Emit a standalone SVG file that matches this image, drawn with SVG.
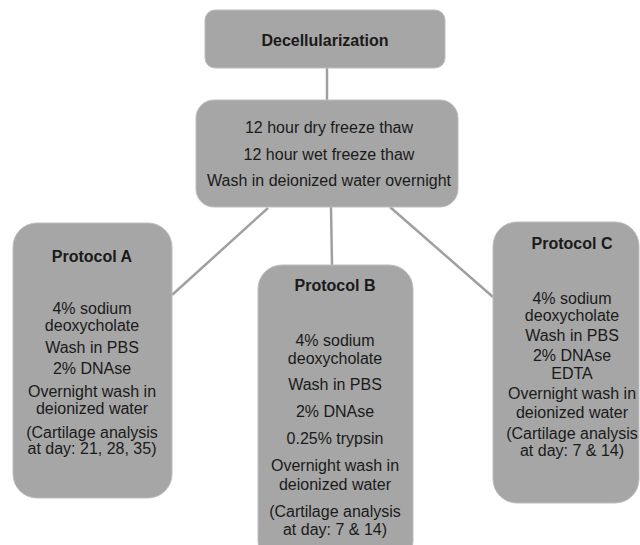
<svg xmlns="http://www.w3.org/2000/svg" width="640" height="545" viewBox="0 0 640 545">
<style>
.box{fill:#a6a6a6;stroke:#bdbdbd;stroke-width:1}
.t{font-family:"Liberation Sans",Arial,sans-serif;font-size:16px;fill:#1a1a1a;text-anchor:middle;dominant-baseline:central}
.b{font-weight:bold}
.c{stroke:#a0a0a0;stroke-width:2.5;fill:none}
</style>
<rect width="640" height="545" fill="#ffffff"/>
<g id="connectors">
<line class="c" x1="327" y1="68" x2="327" y2="100"/>
<line class="c" x1="268" y1="208" x2="172" y2="295"/>
<line class="c" x1="331" y1="207" x2="332" y2="265"/>
<line class="c" x1="390" y1="207" x2="493" y2="297"/>
</g>
<g id="decellularization">
<rect class="box" x="205" y="10" width="240" height="58" rx="10"/>
<text class="t b" x="325" y="40">Decellularization</text>
</g>
<g id="freeze-thaw">
<rect class="box" x="196" y="100" width="262" height="107" rx="18"/>
<text class="t" x="329" y="127">12 hour dry freeze thaw</text>
<text class="t" x="329" y="154">12 hour wet freeze thaw</text>
<text class="t" x="329" y="180">Wash in deionized water overnight</text>
</g>
<g id="protocol-a">
<rect class="box" x="13" y="223" width="159" height="275" rx="24"/>
<text class="t b" x="92" y="256">Protocol A</text>
<text class="t" x="92" y="308">4% sodium</text>
<text class="t" x="92" y="325">deoxycholate</text>
<text class="t" x="92" y="347">Wash in PBS</text>
<text class="t" x="92" y="368">2% DNAse</text>
<text class="t" x="92" y="391">Overnight wash in</text>
<text class="t" x="92" y="408">deionized water</text>
<text class="t" x="92" y="432">(Cartilage analysis</text>
<text class="t" x="92" y="448">at day: 21, 28, 35)</text>
</g>
<g id="protocol-b">
<rect class="box" x="258" y="265" width="155" height="300" rx="24"/>
<text class="t b" x="335" y="285">Protocol B</text>
<text class="t" x="335" y="340">4% sodium</text>
<text class="t" x="335" y="358">deoxycholate</text>
<text class="t" x="335" y="384">Wash in PBS</text>
<text class="t" x="335" y="411">2% DNAse</text>
<text class="t" x="335" y="438">0.25% trypsin</text>
<text class="t" x="335" y="465">Overnight wash in</text>
<text class="t" x="335" y="484">deionized water</text>
<text class="t" x="335" y="511">(Cartilage analysis</text>
<text class="t" x="335" y="529">at day: 7 &amp; 14)</text>
</g>
<g id="protocol-c">
<rect class="box" x="493" y="222" width="146" height="281" rx="24"/>
<text class="t b" x="572" y="243">Protocol C</text>
<text class="t" x="572" y="298">4% sodium</text>
<text class="t" x="572" y="315">deoxycholate</text>
<text class="t" x="572" y="335">Wash in PBS</text>
<text class="t" x="572" y="355">2% DNAse</text>
<text class="t" x="572" y="373">EDTA</text>
<text class="t" x="572" y="393">Overnight wash in</text>
<text class="t" x="572" y="412">deionized water</text>
<text class="t" x="572" y="433">(Cartilage analysis</text>
<text class="t" x="572" y="450">at day: 7 &amp; 14)</text>
</g>
</svg>
